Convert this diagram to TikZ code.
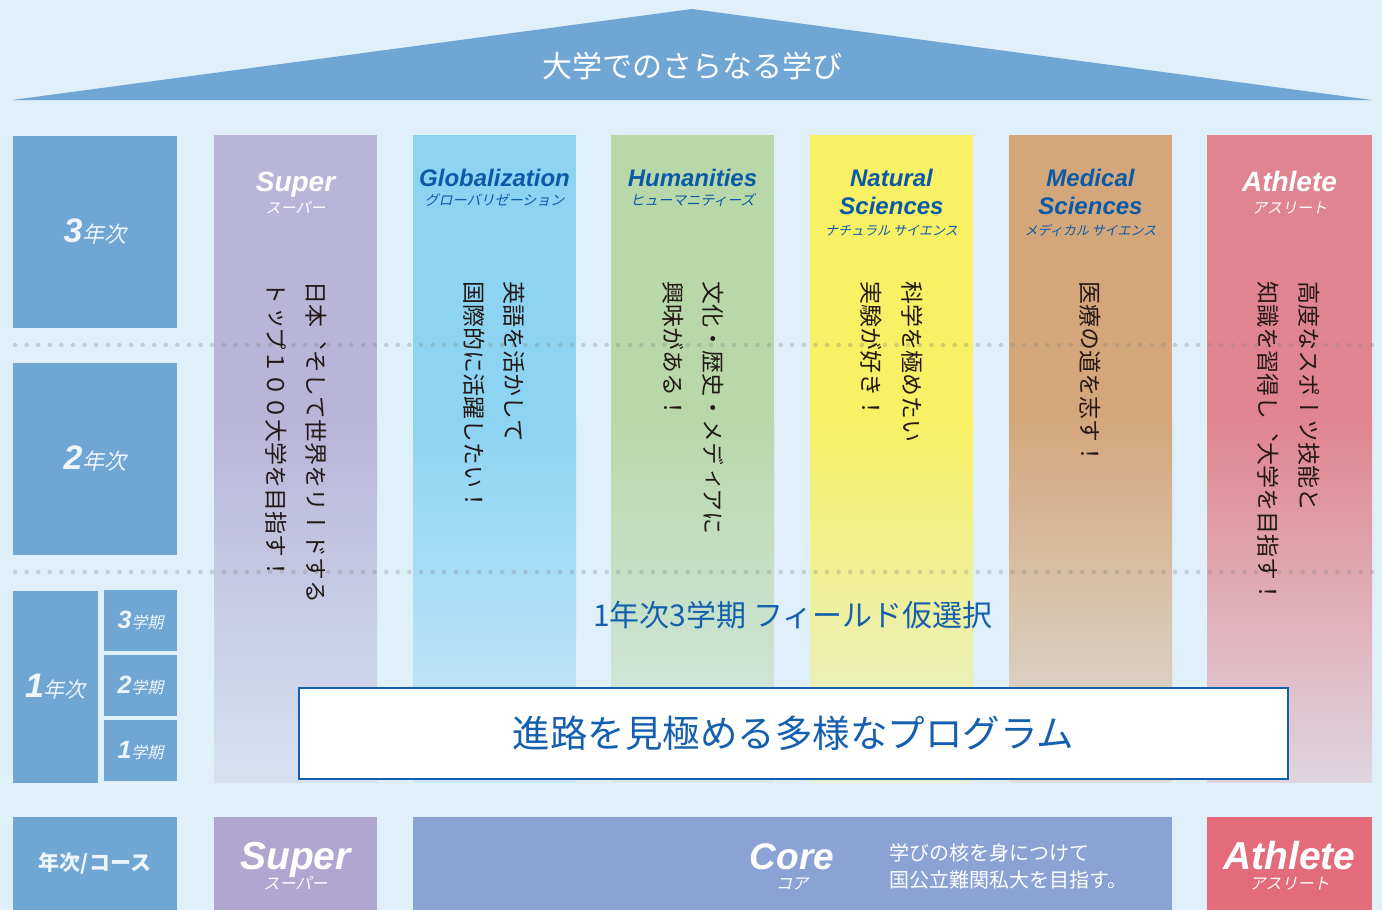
\documentclass[tikz,border=0pt]{standalone}
\usepackage{fontspec}
\setmainfont{Liberation Sans}
\newfontfamily\jp{Noto Sans CJK JP}
\newfontfamily\jpsl[FakeSlant=0.22]{Noto Sans CJK JP}
\newfontfamily\vjp[Vertical=RotatedGlyphs]{Noto Sans CJK JP}
\usetikzlibrary{positioning}

\definecolor{bgblue}{HTML}{DFF0FA}
\definecolor{roofblue}{HTML}{6FA6D3}
\definecolor{lbox}{HTML}{6FA6D3}
\definecolor{superc}{HTML}{B9B5D9}
\definecolor{globc}{HTML}{8DD4F3}
\definecolor{humc}{HTML}{B8D8AA}
\definecolor{natc}{HTML}{F8F065}
\definecolor{medc}{HTML}{D4A77B}
\definecolor{athc}{HTML}{E0858F}
\definecolor{superb}{HTML}{B0A6CF}
\definecolor{coreb}{HTML}{8AA3D4}
\definecolor{athb}{HTML}{E36B7A}
\definecolor{tblue}{HTML}{1560AE}
\definecolor{hblue}{HTML}{0B5AA8}
\definecolor{lbltxt}{HTML}{EEF6FC}
\definecolor{txtblack}{HTML}{231815}

\newcommand{\fs}[1]{\fontsize{#1}{#1}\selectfont}
% digit + kanji label of the grade boxes
\newcommand{\yrlbl}[4]{{\fs{#1}\bfseries\itshape #2}{\jpsl\fs{#3}#4}}

\begin{document}
\begin{tikzpicture}[x=1pt,y=-1pt,
    yearbox/.style={fill=lbox, inner sep=0, text=lbltxt},
    enhead/.style={font=\bfseries\itshape\fs{24}, text=hblue, inner sep=0, anchor=base},
    jphead/.style={font=\jpsl\fs{14}, text=hblue, inner sep=0, anchor=base},
    vtext/.style={rotate=-90, anchor=west, inner sep=0, font=\vjp\fs{23}, text=txtblack},
    dotline/.style={draw=gray, draw opacity=0.3, line width=4.5pt, line cap=round, dash pattern=on 0pt off 11.6pt},
    botbox/.style={inner sep=0, minimum height=93},
    botname/.style={font=\bfseries\itshape\fs{39}, text=white, inner sep=0, anchor=base},
    botjp/.style={font=\jpsl\fs{16}, text=white, inner sep=0, anchor=base}]

  \fill[bgblue] (0,0) rectangle (1382,910);
  \useasboundingbox (0,0) rectangle (1382,910);

  % roof
  \fill[roofblue] (12,100) -- (692,9) -- (1372,100) -- cycle;
  \node[font=\jp\fs{30}, text=white, inner sep=0] (roof) at (692,66) {大学でのさらなる学び};

  % field columns
  \foreach \x/\w/\c in {214/163/superc, 413/163/globc, 611/163/humc, 810/163/natc, 1009/163/medc, 1207/165/athc}{
    \fill[\c] (\x,135) rectangle ++(\w,285);
    \shade[top color=\c, bottom color=\c!25!bgblue] (\x,419.5) rectangle ++(\w,362.5);
  }

  % grade boxes
  \node[yearbox, minimum width=164, minimum height=192] (y3) at (95,232) {\yrlbl{34}{3}{22}{年次}};
  \node[yearbox, minimum width=164, minimum height=192] (y2) at (95,459) {\yrlbl{34}{2}{22}{年次}};
  \node[yearbox, minimum width=85, minimum height=192] (y1) at (55.5,687) {\yrlbl{34}{1}{21}{年次}};
  \node[yearbox, minimum width=73, minimum height=61] (t3) at (140.5,620.5) {\yrlbl{25}{3}{16}{学期}};
  \node[yearbox, minimum width=73, minimum height=61] (t2) at (140.5,685.5) {\yrlbl{25}{2}{16}{学期}};
  \node[yearbox, minimum width=73, minimum height=61] (t1) at (140.5,750.5) {\yrlbl{25}{1}{16}{学期}};

  % dotted rulers
  \draw[dotline] (15,345) -- (1382,345);
  \draw[dotline] (15,572) -- (1382,572);

  % column headings
  \node[enhead, text=white, font=\bfseries\itshape\fs{28}] (super) at (295.5,191) {Super};
  \node[jphead, text=white, font=\jpsl\fs{15}] (superjp) at (295.5,213) {スーパー};
  \node[enhead] (glob) at (494.5,186) {Globalization};
  \node[jphead] (globjp) at (494.5,205) {グローバリゼーション};
  \node[enhead] (hum) at (692.5,186) {Humanities};
  \node[jphead] (humjp) at (692.5,205) {ヒューマニティーズ};
  \node[enhead] (nat1) at (891.5,186) {Natural};
  \node[enhead] (nat2) at (891.5,214) {Sciences};
  \node[jphead, font=\jpsl\fs{13}] (natjp) at (891.5,235) {ナチュラル サイエンス};
  \node[enhead] (med1) at (1090.5,186) {Medical};
  \node[enhead] (med2) at (1090.5,214) {Sciences};
  \node[jphead, font=\jpsl\fs{13}] (medjp) at (1090.5,235) {メディカル サイエンス};
  \node[enhead, text=white, font=\bfseries\itshape\fs{28}] (ath) at (1289.5,191) {Athlete};
  \node[jphead, text=white, font=\jpsl\fs{15}] (athjp) at (1289.5,213) {アスリート};

  % vertical messages
  \node[vtext] (superA) at (316,281) {日本、そして世界をリードする};
  \node[vtext] (superB) at (276,281) {トップ１００大学を目指す！};
  \node[vtext] (globA) at (514,281) {英語を活かして};
  \node[vtext] (globB) at (474,281) {国際的に活躍したい！};
  \node[vtext] (humA) at (713,281) {文化・歴史・メディアに};
  \node[vtext] (humB) at (673,281) {興味がある！};
  \node[vtext] (natA) at (912,281) {科学を極めたい};
  \node[vtext] (natB) at (871,281) {実験が好き！};
  \node[vtext] (medA) at (1090,281) {医療の道を志す！};
  \node[vtext] (athA) at (1309,281) {高度なスポーツ技能と};
  \node[vtext] (athB) at (1268,281) {知識を習得し、大学を目指す！};

  % provisional choice and program box
  \node[font=\jp\fs{30}, text=tblue, inner sep=0] (select) at (793,615) {1年次3学期 フィールド仮選択};
  \node[draw=tblue, line width=2.5pt, fill=white, minimum width=989, minimum height=91, inner sep=0,
        font=\jp\fs{37.5}, text=tblue] (prog) at (793.5,733.5) {進路を見極める多様なプログラム};

  % course row
  \node[botbox, fill=lbox, minimum width=164, font=\jp\bfseries\fs{21}, text=lbltxt] (course) at (95,863.5) {年次/コース};
  \node[botbox, fill=superb, minimum width=163] (superbox) at (295.5,863.5) {};
  \node[botbox, fill=coreb, minimum width=759] (corebox) at (792.5,863.5) {};
  \node[botbox, fill=athb, minimum width=165] (athbox) at (1289.5,863.5) {};
  \node[botname] (superbot) at (295.5,869) {Super};
  \node[botjp] (superbotjp) at (295.5,889) {スーパー};
  \node[botname, font=\bfseries\itshape\fs{37}] (corebot) at (792,869) {Core};
  \node[botjp] (corebotjp) at (792,889) {コア};
  \node[botname] (athbot) at (1289.5,869) {Athlete};
  \node[botjp] (athbotjp) at (1289.5,889) {アスリート};
  \node[font=\jp\fs{20}, text=white, align=left, anchor=west, inner sep=0] (coretxt) at (889,866)
    {学びの核を身につけて\\[7pt]国公立難関私大を目指す。};
\end{tikzpicture}
\end{document}
